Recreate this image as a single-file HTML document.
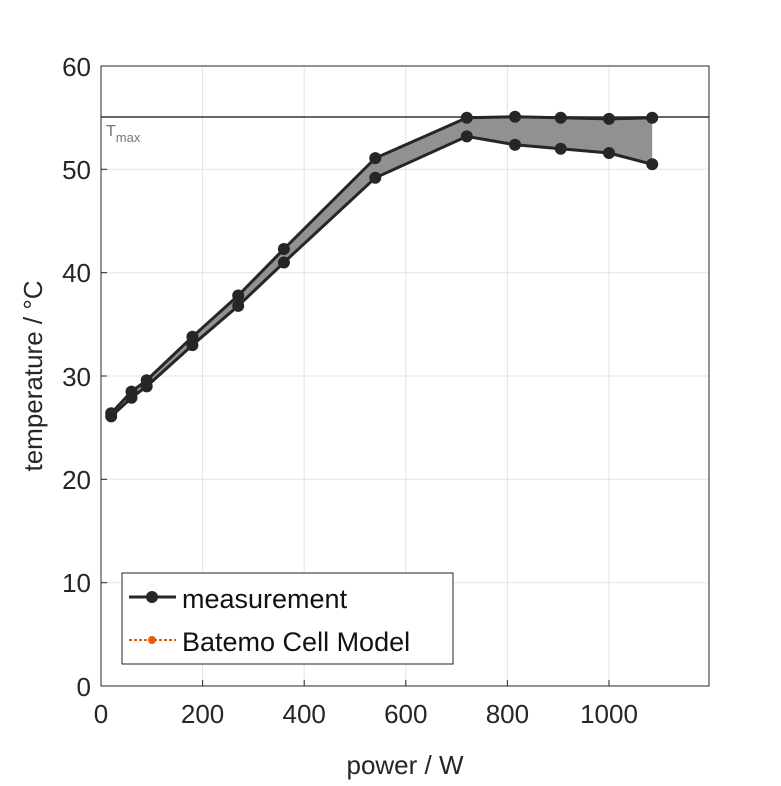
<!DOCTYPE html>
<html><head><meta charset="utf-8"><style>body{margin:0;background:#fff}</style></head><body>
<svg width="781" height="781" xmlns="http://www.w3.org/2000/svg" font-family="'Liberation Sans',sans-serif">
<rect width="781" height="781" fill="#fff"/>
<g stroke="#e3e3e3" stroke-width="1">
<line x1="202.6" y1="66" x2="202.6" y2="686"/><line x1="304.2" y1="66" x2="304.2" y2="686"/><line x1="405.8" y1="66" x2="405.8" y2="686"/><line x1="507.4" y1="66" x2="507.4" y2="686"/><line x1="609" y1="66" x2="609" y2="686"/>
<line x1="101" y1="582.7" x2="709" y2="582.7"/><line x1="101" y1="479.3" x2="709" y2="479.3"/><line x1="101" y1="376" x2="709" y2="376"/><line x1="101" y1="272.7" x2="709" y2="272.7"/><line x1="101" y1="169.3" x2="709" y2="169.3"/>
</g>
<line x1="101" y1="117" x2="709" y2="117" stroke="#666" stroke-width="2"/>
<text x="106" y="136" font-size="16" fill="#777">T<tspan font-size="13" dy="6">max</tspan></text>
<polygon points="111.2,413.3 131.5,391.6 146.7,380.2 192.4,336.8 238.2,295.5 283.9,249 375.3,158.1 466.8,117.8 515,116.8 560.7,117.8 609,118.9 652.2,117.8 652.2,164.3 609,153 560.7,148.8 515,144.7 466.8,136.4 375.3,177.8 283.9,262.5 238.2,305.9 192.4,345.1 146.7,386.4 131.5,397.8 111.2,416.4" fill="#919191"/>
<g fill="none" stroke="#262626" stroke-width="3">
<polyline points="111.2,413.3 131.5,391.6 146.7,380.2 192.4,336.8 238.2,295.5 283.9,249 375.3,158.1 466.8,117.8 515,116.8 560.7,117.8 609,118.9 652.2,117.8"/>
<polyline points="111.2,416.4 131.5,397.8 146.7,386.4 192.4,345.1 238.2,305.9 283.9,262.5 375.3,177.8 466.8,136.4 515,144.7 560.7,148.8 609,153 652.2,164.3"/>
</g>
<g fill="#262626">
<circle cx="111.2" cy="413.3" r="6"/><circle cx="131.5" cy="391.6" r="6"/><circle cx="146.7" cy="380.2" r="6"/><circle cx="192.4" cy="336.8" r="6"/><circle cx="238.2" cy="295.5" r="6"/><circle cx="283.9" cy="249" r="6"/><circle cx="375.3" cy="158.1" r="6"/><circle cx="466.8" cy="117.8" r="6"/><circle cx="515" cy="116.8" r="6"/><circle cx="560.7" cy="117.8" r="6"/><circle cx="609" cy="118.9" r="6"/><circle cx="652.2" cy="117.8" r="6"/>
<circle cx="111.2" cy="416.4" r="6"/><circle cx="131.5" cy="397.8" r="6"/><circle cx="146.7" cy="386.4" r="6"/><circle cx="192.4" cy="345.1" r="6"/><circle cx="238.2" cy="305.9" r="6"/><circle cx="283.9" cy="262.5" r="6"/><circle cx="375.3" cy="177.8" r="6"/><circle cx="466.8" cy="136.4" r="6"/><circle cx="515" cy="144.7" r="6"/><circle cx="560.7" cy="148.8" r="6"/><circle cx="609" cy="153" r="6"/><circle cx="652.2" cy="164.3" r="6"/>
</g>
<rect x="101" y="66" width="608" height="620" fill="none" stroke="#262626" stroke-width="1"/>
<g stroke="#262626"><line x1="202.6" y1="686" x2="202.6" y2="680"/><line x1="304.2" y1="686" x2="304.2" y2="680"/><line x1="405.8" y1="686" x2="405.8" y2="680"/><line x1="507.4" y1="686" x2="507.4" y2="680"/><line x1="609" y1="686" x2="609" y2="680"/>
<line x1="101" y1="582.7" x2="107" y2="582.7"/><line x1="101" y1="479.3" x2="107" y2="479.3"/><line x1="101" y1="376" x2="107" y2="376"/><line x1="101" y1="272.7" x2="107" y2="272.7"/><line x1="101" y1="169.3" x2="107" y2="169.3"/></g>
<g font-size="26" fill="#262626" text-anchor="middle">
<text x="101" y="723">0</text><text x="202.6" y="723">200</text><text x="304.2" y="723">400</text><text x="405.8" y="723">600</text><text x="507.4" y="723">800</text><text x="609" y="723">1000</text>
<text x="405" y="774">power / W</text>
</g>
<g font-size="26" fill="#262626" text-anchor="end">
<text x="91" y="696">0</text><text x="91" y="592">10</text><text x="91" y="489">20</text><text x="91" y="386">30</text><text x="91" y="282">40</text><text x="91" y="179">50</text><text x="91" y="76">60</text>
</g>
<text transform="translate(42,376) rotate(-90)" font-size="26" fill="#262626" text-anchor="middle">temperature / °C</text>
<rect x="122" y="573" width="331" height="91" fill="#fff" stroke="#262626"/>
<line x1="129" y1="597" x2="176" y2="597" stroke="#262626" stroke-width="3"/><circle cx="152" cy="597" r="6" fill="#262626"/>
<line x1="129" y1="640" x2="176" y2="640" stroke="#e85d0c" stroke-width="2" stroke-dasharray="3,2"/><circle cx="152" cy="640" r="4" fill="#e85d0c"/>
<text x="182" y="608" font-size="27" fill="#111">measurement</text>
<text x="182" y="651" font-size="27" fill="#111">Batemo Cell Model</text>
</svg>
</body></html>
